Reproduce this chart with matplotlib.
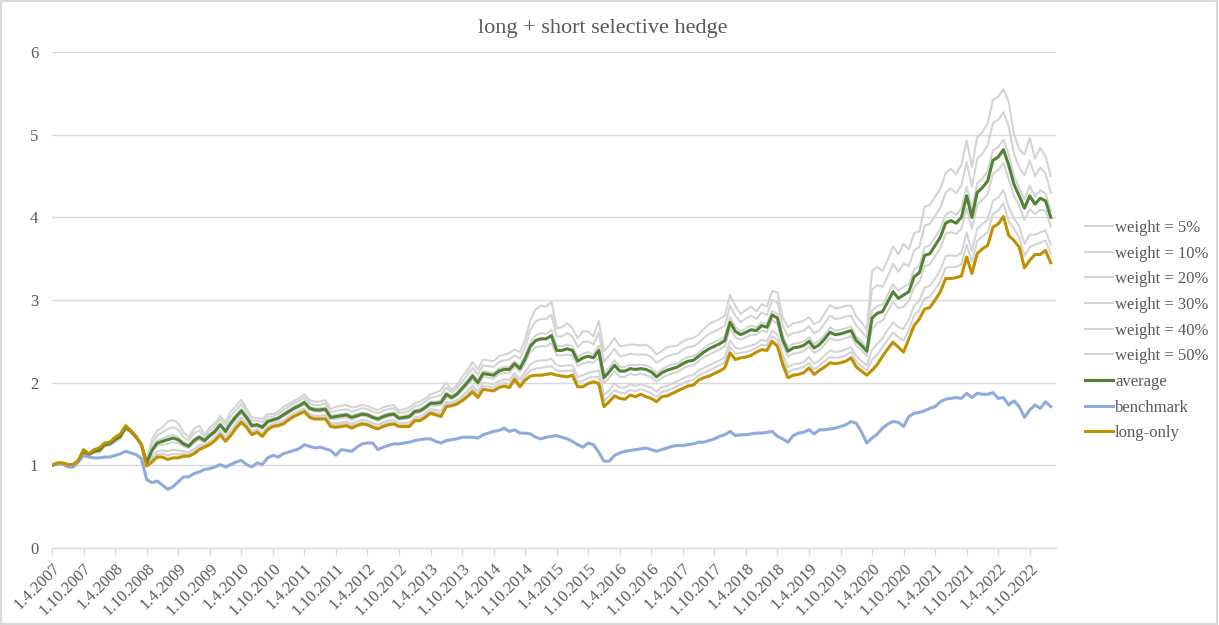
import matplotlib
matplotlib.use('Agg')
import matplotlib.pyplot as plt
from matplotlib.patches import Rectangle
import numpy as np

# monthly values, 1.4.2007 .. 1.2.2023
benchmark = [
    1.00, 1.02, 1.02, 0.99, 0.98, 1.04, 1.12, 1.10, 1.09, 1.09, 1.10, 1.10, 1.12, 1.14, 1.17, 1.15, 1.13, 1.08,
    0.83, 0.79, 0.81, 0.76, 0.71, 0.74, 0.80, 0.86, 0.86, 0.90, 0.92, 0.95, 0.96, 0.98, 1.01, 0.98, 1.01, 1.04,
    1.06, 1.01, 0.98, 1.03, 1.01, 1.09, 1.12, 1.10, 1.14, 1.16, 1.18, 1.20, 1.25, 1.23, 1.21, 1.22, 1.20, 1.18,
    1.12, 1.19, 1.18, 1.17, 1.22, 1.26, 1.27, 1.27, 1.19, 1.22, 1.24, 1.26, 1.26, 1.27, 1.28, 1.30, 1.31, 1.32,
    1.32, 1.29, 1.27, 1.30, 1.31, 1.32, 1.34, 1.34, 1.34, 1.33, 1.37, 1.39, 1.41, 1.42, 1.45, 1.41, 1.43, 1.39,
    1.39, 1.38, 1.34, 1.32, 1.34, 1.35, 1.36, 1.34, 1.32, 1.29, 1.25, 1.22, 1.27, 1.25, 1.16, 1.05, 1.05, 1.12,
    1.15, 1.17, 1.18, 1.19, 1.20, 1.21, 1.19, 1.17, 1.19, 1.21, 1.23, 1.24, 1.24, 1.25, 1.26, 1.28, 1.28, 1.30,
    1.32, 1.35, 1.37, 1.41, 1.36, 1.37, 1.37, 1.38, 1.39, 1.39, 1.40, 1.41, 1.35, 1.32, 1.28, 1.36, 1.39, 1.40,
    1.43, 1.38, 1.43, 1.43, 1.44, 1.45, 1.47, 1.49, 1.53, 1.51, 1.40, 1.27, 1.33, 1.38, 1.45, 1.50, 1.53, 1.52,
    1.47, 1.59, 1.63, 1.64, 1.66, 1.69, 1.71, 1.77, 1.80, 1.81, 1.82, 1.81, 1.87, 1.82, 1.87, 1.86, 1.86, 1.88,
    1.81, 1.82, 1.73, 1.78, 1.71, 1.58, 1.67, 1.73, 1.69, 1.77, 1.71]

long_only = [
    1.00, 1.03, 1.03, 1.01, 1.01, 1.06, 1.19, 1.14, 1.19, 1.21, 1.27, 1.28, 1.34, 1.38, 1.48, 1.42, 1.35, 1.25,
    0.99, 1.04, 1.10, 1.10, 1.07, 1.09, 1.09, 1.11, 1.11, 1.14, 1.19, 1.22, 1.25, 1.30, 1.37, 1.29, 1.36, 1.45,
    1.52, 1.46, 1.37, 1.40, 1.35, 1.43, 1.47, 1.48, 1.50, 1.55, 1.59, 1.62, 1.65, 1.58, 1.56, 1.56, 1.56, 1.47,
    1.46, 1.47, 1.48, 1.45, 1.48, 1.50, 1.49, 1.46, 1.44, 1.47, 1.49, 1.50, 1.47, 1.47, 1.47, 1.54, 1.54, 1.58,
    1.63, 1.61, 1.59, 1.71, 1.72, 1.74, 1.78, 1.83, 1.89, 1.82, 1.92, 1.91, 1.90, 1.94, 1.96, 1.94, 2.04, 1.95,
    2.03, 2.08, 2.09, 2.09, 2.10, 2.11, 2.09, 2.08, 2.07, 2.09, 1.95, 1.95, 1.99, 2.01, 1.99, 1.71, 1.77, 1.84,
    1.81, 1.80, 1.85, 1.83, 1.86, 1.83, 1.81, 1.77, 1.83, 1.84, 1.87, 1.90, 1.93, 1.96, 1.97, 2.03, 2.06, 2.08,
    2.11, 2.14, 2.18, 2.36, 2.28, 2.30, 2.31, 2.33, 2.37, 2.40, 2.39, 2.50, 2.44, 2.22, 2.06, 2.09, 2.10, 2.12,
    2.18, 2.10, 2.15, 2.19, 2.24, 2.23, 2.24, 2.26, 2.30, 2.19, 2.14, 2.09, 2.15, 2.22, 2.32, 2.41, 2.49, 2.43,
    2.37, 2.53, 2.69, 2.77, 2.89, 2.91, 3.00, 3.10, 3.26, 3.26, 3.27, 3.29, 3.52, 3.32, 3.56, 3.62, 3.66, 3.88,
    3.92, 4.01, 3.78, 3.72, 3.64, 3.39, 3.48, 3.55, 3.55, 3.60, 3.45]

average = [
    1.00, 1.02, 1.02, 0.99, 0.99, 1.05, 1.17, 1.13, 1.17, 1.18, 1.25, 1.26, 1.31, 1.35, 1.46, 1.41, 1.34, 1.25,
    1.03, 1.18, 1.27, 1.29, 1.31, 1.33, 1.31, 1.26, 1.23, 1.30, 1.34, 1.30, 1.36, 1.41, 1.49, 1.41, 1.51, 1.59,
    1.66, 1.58, 1.48, 1.49, 1.46, 1.53, 1.55, 1.57, 1.61, 1.65, 1.69, 1.72, 1.76, 1.69, 1.67, 1.67, 1.68, 1.58,
    1.59, 1.60, 1.61, 1.58, 1.60, 1.62, 1.61, 1.58, 1.56, 1.59, 1.61, 1.62, 1.57, 1.58, 1.59, 1.65, 1.66, 1.70,
    1.75, 1.75, 1.76, 1.86, 1.82, 1.86, 1.93, 2.00, 2.08, 2.00, 2.11, 2.10, 2.09, 2.14, 2.16, 2.16, 2.23, 2.17,
    2.29, 2.44, 2.51, 2.53, 2.53, 2.57, 2.39, 2.39, 2.41, 2.39, 2.26, 2.30, 2.32, 2.30, 2.39, 2.06, 2.13, 2.21,
    2.14, 2.14, 2.17, 2.16, 2.17, 2.16, 2.13, 2.07, 2.12, 2.15, 2.17, 2.19, 2.23, 2.26, 2.27, 2.32, 2.37, 2.41,
    2.44, 2.47, 2.51, 2.73, 2.62, 2.58, 2.61, 2.64, 2.63, 2.69, 2.67, 2.82, 2.78, 2.52, 2.38, 2.42, 2.43, 2.45,
    2.50, 2.42, 2.46, 2.53, 2.61, 2.58, 2.59, 2.61, 2.63, 2.51, 2.45, 2.38, 2.78, 2.84, 2.86, 2.98, 3.10, 3.02,
    3.06, 3.10, 3.28, 3.33, 3.54, 3.56, 3.66, 3.76, 3.93, 3.96, 3.93, 4.00, 4.26, 4.00, 4.30, 4.36, 4.44, 4.69,
    4.73, 4.82, 4.63, 4.40, 4.26, 4.11, 4.26, 4.16, 4.23, 4.20, 4.00]

w5 = [
    1.00, 1.03, 1.03, 1.01, 1.01, 1.06, 1.19, 1.14, 1.19, 1.20, 1.27, 1.28, 1.33, 1.37, 1.48, 1.42, 1.35, 1.25,
    1.00, 1.07, 1.13, 1.14, 1.12, 1.14, 1.13, 1.14, 1.13, 1.17, 1.22, 1.24, 1.27, 1.32, 1.39, 1.31, 1.39, 1.48,
    1.55, 1.48, 1.39, 1.42, 1.37, 1.45, 1.49, 1.50, 1.52, 1.57, 1.61, 1.64, 1.67, 1.60, 1.58, 1.58, 1.58, 1.49,
    1.49, 1.50, 1.51, 1.48, 1.50, 1.52, 1.51, 1.48, 1.46, 1.49, 1.51, 1.52, 1.49, 1.49, 1.49, 1.56, 1.56, 1.60,
    1.65, 1.64, 1.62, 1.74, 1.74, 1.76, 1.81, 1.86, 1.93, 1.86, 1.96, 1.95, 1.94, 1.98, 2.00, 1.98, 2.08, 1.99,
    2.08, 2.15, 2.17, 2.18, 2.19, 2.20, 2.15, 2.14, 2.14, 2.15, 2.01, 2.02, 2.06, 2.07, 2.07, 1.78, 1.84, 1.91,
    1.88, 1.87, 1.91, 1.90, 1.92, 1.90, 1.87, 1.83, 1.89, 1.90, 1.93, 1.96, 1.99, 2.02, 2.03, 2.09, 2.12, 2.15,
    2.18, 2.21, 2.25, 2.43, 2.35, 2.36, 2.37, 2.39, 2.42, 2.46, 2.45, 2.56, 2.51, 2.28, 2.12, 2.16, 2.17, 2.19,
    2.24, 2.16, 2.21, 2.26, 2.31, 2.30, 2.31, 2.33, 2.37, 2.25, 2.20, 2.15, 2.28, 2.34, 2.43, 2.52, 2.61, 2.55,
    2.51, 2.64, 2.81, 2.88, 3.02, 3.04, 3.13, 3.23, 3.39, 3.40, 3.40, 3.43, 3.67, 3.46, 3.71, 3.77, 3.82, 4.04,
    4.08, 4.17, 3.95, 3.86, 3.76, 3.53, 3.64, 3.67, 3.69, 3.72, 3.56]

w10 = [
    1.00, 1.03, 1.03, 1.00, 1.00, 1.06, 1.18, 1.14, 1.18, 1.20, 1.26, 1.27, 1.33, 1.37, 1.47, 1.42, 1.35, 1.25,
    1.01, 1.10, 1.17, 1.18, 1.17, 1.19, 1.18, 1.17, 1.16, 1.20, 1.25, 1.25, 1.29, 1.34, 1.42, 1.34, 1.42, 1.51,
    1.58, 1.51, 1.41, 1.44, 1.39, 1.47, 1.50, 1.52, 1.54, 1.59, 1.63, 1.66, 1.69, 1.62, 1.60, 1.60, 1.61, 1.51,
    1.51, 1.52, 1.53, 1.50, 1.53, 1.55, 1.54, 1.51, 1.49, 1.52, 1.54, 1.55, 1.51, 1.51, 1.52, 1.58, 1.59, 1.63,
    1.68, 1.67, 1.66, 1.77, 1.76, 1.79, 1.84, 1.90, 1.97, 1.89, 2.00, 1.99, 1.98, 2.02, 2.04, 2.03, 2.12, 2.04,
    2.13, 2.22, 2.26, 2.27, 2.27, 2.29, 2.21, 2.20, 2.21, 2.21, 2.07, 2.09, 2.12, 2.13, 2.15, 1.85, 1.91, 1.99,
    1.94, 1.94, 1.98, 1.96, 1.98, 1.96, 1.94, 1.89, 1.95, 1.96, 1.99, 2.02, 2.05, 2.08, 2.09, 2.15, 2.18, 2.21,
    2.24, 2.27, 2.31, 2.51, 2.42, 2.41, 2.43, 2.45, 2.47, 2.52, 2.50, 2.63, 2.58, 2.34, 2.19, 2.22, 2.23, 2.25,
    2.31, 2.23, 2.27, 2.33, 2.39, 2.37, 2.38, 2.40, 2.43, 2.32, 2.26, 2.21, 2.40, 2.47, 2.54, 2.64, 2.73, 2.67,
    2.65, 2.76, 2.93, 2.99, 3.15, 3.17, 3.26, 3.36, 3.53, 3.54, 3.53, 3.57, 3.82, 3.59, 3.86, 3.92, 3.97, 4.20,
    4.24, 4.33, 4.12, 3.99, 3.89, 3.68, 3.79, 3.79, 3.82, 3.84, 3.67]

w20 = [
    1.00, 1.02, 1.02, 0.99, 0.99, 1.05, 1.17, 1.13, 1.17, 1.19, 1.25, 1.26, 1.32, 1.36, 1.46, 1.41, 1.34, 1.25,
    1.02, 1.15, 1.24, 1.25, 1.26, 1.28, 1.27, 1.23, 1.21, 1.27, 1.31, 1.28, 1.34, 1.39, 1.47, 1.39, 1.48, 1.56,
    1.63, 1.56, 1.46, 1.47, 1.44, 1.51, 1.53, 1.55, 1.59, 1.63, 1.67, 1.70, 1.74, 1.67, 1.65, 1.65, 1.66, 1.56,
    1.56, 1.57, 1.58, 1.55, 1.58, 1.60, 1.59, 1.56, 1.54, 1.57, 1.59, 1.60, 1.55, 1.56, 1.57, 1.63, 1.64, 1.68,
    1.73, 1.72, 1.73, 1.83, 1.80, 1.84, 1.90, 1.97, 2.04, 1.96, 2.07, 2.06, 2.05, 2.10, 2.12, 2.12, 2.19, 2.13,
    2.24, 2.37, 2.43, 2.44, 2.44, 2.48, 2.33, 2.33, 2.34, 2.33, 2.20, 2.23, 2.25, 2.24, 2.31, 1.99, 2.06, 2.14,
    2.07, 2.07, 2.11, 2.09, 2.11, 2.09, 2.07, 2.01, 2.06, 2.09, 2.11, 2.13, 2.17, 2.20, 2.21, 2.26, 2.31, 2.34,
    2.37, 2.40, 2.44, 2.66, 2.55, 2.52, 2.55, 2.58, 2.58, 2.63, 2.61, 2.76, 2.71, 2.46, 2.32, 2.35, 2.36, 2.38,
    2.44, 2.36, 2.40, 2.46, 2.54, 2.51, 2.52, 2.54, 2.56, 2.45, 2.39, 2.32, 2.65, 2.72, 2.75, 2.87, 2.98, 2.90,
    2.92, 2.99, 3.16, 3.22, 3.41, 3.43, 3.53, 3.63, 3.80, 3.82, 3.80, 3.86, 4.11, 3.86, 4.15, 4.21, 4.28, 4.53,
    4.57, 4.66, 4.46, 4.26, 4.14, 3.97, 4.10, 4.04, 4.09, 4.08, 3.89]

w30 = [
    1.00, 1.02, 1.02, 0.99, 0.99, 1.05, 1.17, 1.13, 1.17, 1.18, 1.25, 1.26, 1.31, 1.35, 1.46, 1.41, 1.34, 1.25,
    1.04, 1.20, 1.30, 1.32, 1.35, 1.37, 1.34, 1.28, 1.25, 1.32, 1.36, 1.31, 1.38, 1.43, 1.51, 1.43, 1.53, 1.61,
    1.68, 1.60, 1.50, 1.50, 1.48, 1.55, 1.56, 1.58, 1.63, 1.67, 1.71, 1.74, 1.78, 1.71, 1.69, 1.69, 1.70, 1.60,
    1.61, 1.62, 1.63, 1.60, 1.62, 1.64, 1.63, 1.60, 1.58, 1.61, 1.63, 1.64, 1.59, 1.60, 1.61, 1.67, 1.68, 1.72,
    1.77, 1.77, 1.79, 1.88, 1.84, 1.88, 1.95, 2.03, 2.11, 2.03, 2.14, 2.13, 2.12, 2.17, 2.19, 2.19, 2.26, 2.20,
    2.33, 2.49, 2.57, 2.60, 2.59, 2.64, 2.44, 2.44, 2.46, 2.44, 2.31, 2.35, 2.37, 2.34, 2.45, 2.11, 2.18, 2.27,
    2.19, 2.19, 2.22, 2.21, 2.22, 2.21, 2.18, 2.12, 2.16, 2.20, 2.22, 2.23, 2.28, 2.31, 2.32, 2.36, 2.42, 2.46,
    2.49, 2.52, 2.56, 2.79, 2.67, 2.62, 2.66, 2.69, 2.67, 2.73, 2.71, 2.87, 2.83, 2.57, 2.43, 2.47, 2.48, 2.50,
    2.55, 2.47, 2.51, 2.58, 2.67, 2.63, 2.64, 2.66, 2.68, 2.56, 2.50, 2.42, 2.87, 2.93, 2.94, 3.07, 3.19, 3.11,
    3.16, 3.19, 3.37, 3.41, 3.64, 3.66, 3.76, 3.86, 4.03, 4.07, 4.03, 4.11, 4.37, 4.10, 4.41, 4.47, 4.56, 4.81,
    4.85, 4.94, 4.76, 4.50, 4.35, 4.22, 4.38, 4.25, 4.33, 4.29, 4.08]

w40 = [
    1.00, 1.01, 1.01, 0.98, 0.98, 1.04, 1.16, 1.12, 1.16, 1.16, 1.24, 1.25, 1.29, 1.33, 1.45, 1.40, 1.33, 1.25,
    1.05, 1.26, 1.36, 1.40, 1.44, 1.46, 1.43, 1.34, 1.30, 1.39, 1.42, 1.34, 1.42, 1.47, 1.56, 1.48, 1.59, 1.67,
    1.74, 1.65, 1.54, 1.54, 1.52, 1.59, 1.59, 1.62, 1.67, 1.71, 1.75, 1.78, 1.82, 1.75, 1.73, 1.73, 1.75, 1.64,
    1.66, 1.67, 1.68, 1.65, 1.67, 1.69, 1.68, 1.65, 1.63, 1.66, 1.68, 1.69, 1.63, 1.64, 1.66, 1.71, 1.73, 1.77,
    1.82, 1.83, 1.85, 1.94, 1.88, 1.93, 2.01, 2.09, 2.18, 2.10, 2.21, 2.20, 2.19, 2.25, 2.27, 2.28, 2.33, 2.29,
    2.43, 2.64, 2.74, 2.77, 2.77, 2.82, 2.56, 2.56, 2.60, 2.56, 2.43, 2.49, 2.50, 2.46, 2.61, 2.25, 2.33, 2.41,
    2.32, 2.33, 2.35, 2.34, 2.34, 2.34, 2.31, 2.24, 2.28, 2.32, 2.34, 2.35, 2.40, 2.43, 2.44, 2.48, 2.54, 2.59,
    2.62, 2.65, 2.69, 2.93, 2.81, 2.73, 2.78, 2.81, 2.77, 2.85, 2.82, 3.00, 2.97, 2.69, 2.56, 2.60, 2.61, 2.63,
    2.68, 2.60, 2.63, 2.72, 2.81, 2.77, 2.78, 2.80, 2.81, 2.69, 2.62, 2.54, 3.13, 3.18, 3.16, 3.29, 3.44, 3.34,
    3.44, 3.41, 3.60, 3.64, 3.90, 3.92, 4.02, 4.12, 4.30, 4.35, 4.29, 4.39, 4.67, 4.37, 4.71, 4.77, 4.87, 5.14,
    5.18, 5.27, 5.10, 4.77, 4.60, 4.51, 4.69, 4.50, 4.60, 4.53, 4.30]

w50 = [
    1.00, 1.01, 1.01, 0.97, 0.97, 1.04, 1.15, 1.12, 1.15, 1.15, 1.23, 1.24, 1.28, 1.32, 1.44, 1.40, 1.33, 1.25,
    1.07, 1.31, 1.42, 1.46, 1.53, 1.55, 1.51, 1.40, 1.34, 1.44, 1.48, 1.37, 1.46, 1.51, 1.60, 1.52, 1.65, 1.72,
    1.79, 1.69, 1.58, 1.57, 1.56, 1.62, 1.62, 1.65, 1.71, 1.74, 1.78, 1.81, 1.86, 1.79, 1.77, 1.77, 1.79, 1.68,
    1.71, 1.72, 1.73, 1.70, 1.71, 1.73, 1.72, 1.69, 1.67, 1.70, 1.72, 1.73, 1.66, 1.68, 1.70, 1.75, 1.77, 1.81,
    1.86, 1.88, 1.91, 2.00, 1.91, 1.97, 2.07, 2.15, 2.25, 2.16, 2.28, 2.27, 2.26, 2.32, 2.34, 2.36, 2.40, 2.37,
    2.52, 2.76, 2.89, 2.93, 2.92, 2.98, 2.66, 2.67, 2.72, 2.66, 2.54, 2.62, 2.62, 2.56, 2.75, 2.38, 2.45, 2.54,
    2.44, 2.45, 2.46, 2.46, 2.45, 2.46, 2.42, 2.34, 2.38, 2.43, 2.44, 2.45, 2.50, 2.53, 2.54, 2.58, 2.65, 2.71,
    2.74, 2.77, 2.81, 3.06, 2.93, 2.83, 2.88, 2.92, 2.86, 2.95, 2.92, 3.11, 3.09, 2.79, 2.67, 2.72, 2.73, 2.75,
    2.79, 2.71, 2.74, 2.84, 2.94, 2.90, 2.91, 2.93, 2.93, 2.80, 2.73, 2.64, 3.35, 3.40, 3.35, 3.49, 3.65, 3.55,
    3.68, 3.61, 3.81, 3.83, 4.13, 4.15, 4.25, 4.35, 4.53, 4.59, 4.52, 4.64, 4.93, 4.61, 4.97, 5.03, 5.14, 5.42,
    5.46, 5.55, 5.40, 5.01, 4.82, 4.76, 4.96, 4.71, 4.84, 4.74, 4.50]

tick_labels = [
    '1.4.2007', '1.10.2007', '1.4.2008', '1.10.2008', '1.4.2009', '1.10.2009', '1.4.2010', '1.10.2010',
    '1.4.2011', '1.10.2011', '1.4.2012', '1.10.2012', '1.4.2013', '1.10.2013', '1.4.2014', '1.10.2014',
    '1.4.2015', '1.10.2015', '1.4.2016', '1.10.2016', '1.4.2017', '1.10.2017', '1.4.2018', '1.10.2018',
    '1.4.2019', '1.10.2019', '1.4.2020', '1.10.2020', '1.4.2021', '1.10.2021', '1.4.2022', '1.10.2022']

weights = [('weight = 5%', w5), ('weight = 10%', w10), ('weight = 20%', w20),
           ('weight = 30%', w30), ('weight = 40%', w40), ('weight = 50%', w50)]

plt.rcParams['font.family'] = ['Liberation Serif', 'DejaVu Serif']
txt = '#595959'
grid = '#d9d9d9'

fig = plt.figure(figsize=(12.19, 6.25), dpi=100)
ax = fig.add_axes([0.0427, 0.1232, 0.8236, 0.7936])

x = np.arange(len(benchmark))

for name, s in weights:
    ax.plot(x, s, color='#d4d4d4', lw=1.5, label=name)
ax.plot(x, average, color='#548235', lw=2.2, label='average')
ax.plot(x, benchmark, color='#8faadc', lw=2.2, label='benchmark')
ax.plot(x, long_only, color='#bf9000', lw=2.2, label='long-only')

ax.set_xlim(0, 191)
ax.set_ylim(0, 6)
ax.set_yticks(range(0, 7))
ax.yaxis.grid(True, color=grid, lw=1)
ax.set_axisbelow(True)

ax.set_xticks(np.arange(len(tick_labels)) * 6)
ax.set_xticklabels(tick_labels, rotation=45, ha='right', va='top', rotation_mode='anchor')

for s in ['top', 'right', 'left']:
    ax.spines[s].set_visible(False)
ax.spines['bottom'].set_color(grid)
ax.spines['bottom'].set_linewidth(1)
ax.tick_params(axis='x', colors=grid, length=5, width=1, labelcolor=txt, labelsize=12, pad=4)
ax.tick_params(axis='y', length=0, labelcolor=txt, labelsize=12, pad=10)

ax.set_title('long + short selective hedge', color=txt, fontsize=16, pad=14, x=0.549)

ax.legend(loc='center left', bbox_to_anchor=(0.883, 0.471), bbox_transform=fig.transFigure,
          frameon=False, fontsize=12, labelcolor=txt, handlelength=1.7, handletextpad=0.12,
          labelspacing=0.58, borderpad=0)

fig.patches.append(Rectangle((0.0005, 0.001), 0.998, 0.998, transform=fig.transFigure,
                             fill=False, edgecolor=grid, lw=1.5))

plt.savefig('out.png', dpi=100)
